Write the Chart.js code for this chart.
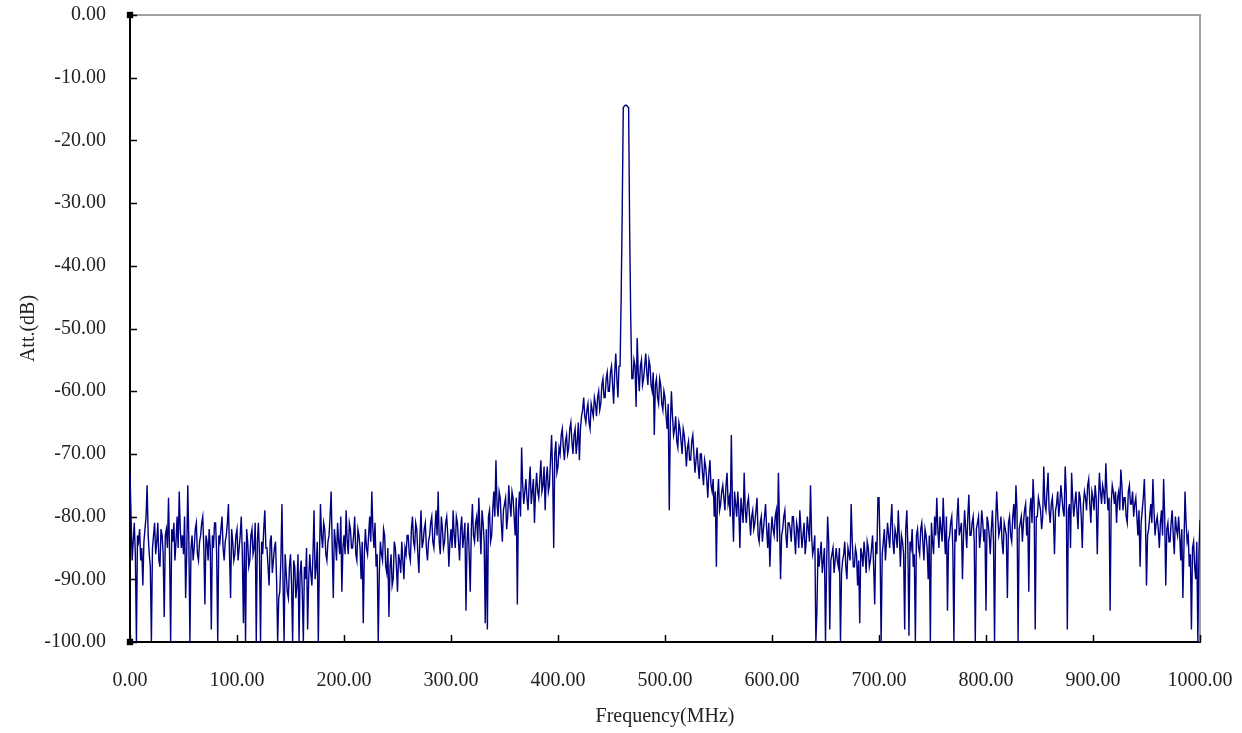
<!DOCTYPE html>
<html>
<head>
<meta charset="utf-8">
<script src="https://cdn.jsdelivr.net/npm/chart.js@4.4.1/dist/chart.umd.min.js"></script>
<style>
  html, body { margin: 0; padding: 0; background: #fff; overflow: hidden; }
  canvas { display: block; }
</style>
</head>
<body>
<canvas id="chart" width="1242" height="733"></canvas>
<script>
// Espectro medido: un punto por MHz, de 0 a 1000 MHz
const freqStep = 1;

// Att.(dB), 20 valores por fila (20 MHz)
const attValues = [
    -73, -80, -87, -84, -81, -86, -100, -83, -84, -82, -87, -85, -91, -84, -82, -80, -75, -83, -86, -88,
    -100, -85, -83, -81, -86, -84, -81, -87, -88, -82, -83, -86, -96, -83, -82, -85, -77, -86, -100, -82,
    -84, -81, -87, -84, -80, -85, -76, -82, -85, -83, -86, -80, -93, -86, -75, -84, -100, -85, -83, -87,
    -85, -82, -81, -86, -87, -84, -83, -81, -80, -85, -94, -83, -84, -87, -82, -85, -98, -83, -85, -81,
    -81, -86, -100, -83, -84, -82, -80, -85, -87, -84, -83, -81, -78, -86, -93, -82, -84, -87, -86, -83,
    -82, -87, -85, -83, -80, -86, -97, -84, -100, -82, -84, -88, -87, -83, -82, -86, -85, -81, -100, -84,
    -81, -86, -100, -84, -86, -82, -79, -85, -85, -88, -91, -84, -83, -89, -87, -85, -84, -90, -100, -93,
    -92, -87, -78, -90, -100, -86, -89, -92, -93, -88, -86, -91, -100, -87, -88, -93, -91, -86, -100, -89,
    -87, -92, -100, -88, -90, -85, -98, -90, -86, -89, -91, -86, -79, -90, -88, -84, -100, -87, -78, -83,
    -85, -81, -82, -86, -87, -84, -83, -80, -76, -85, -93, -82, -84, -87, -81, -84, -86, -80, -92, -85,
    -83, -86, -79, -84, -86, -81, -82, -85, -85, -83, -80, -86, -87, -82, -83, -85, -90, -84, -97, -86,
    -82, -85, -86, -83, -80, -84, -76, -82, -85, -81, -88, -86, -100, -89, -84, -86, -87, -82, -83, -88,
    -89, -85, -96, -88, -86, -91, -90, -84, -85, -88, -92, -86, -87, -89, -84, -87, -90, -85, -86, -83,
    -83, -86, -87, -82, -80, -84, -85, -81, -82, -86, -89, -83, -79, -85, -84, -82, -81, -85, -87, -84,
    -83, -81, -80, -84, -85, -82, -79, -83, -76, -84, -86, -80, -82, -85, -84, -81, -80, -83, -88, -84,
    -82, -85, -79, -83, -85, -80, -81, -84, -87, -82, -80, -85, -83, -81, -95, -84, -81, -86, -92, -82,
    -78, -83, -84, -81, -80, -84, -77, -82, -86, -79, -81, -84, -97, -82, -98, -80, -79, -84, -83, -79,
    -76, -80, -71, -78, -80, -76, -77, -81, -84, -79, -78, -77, -82, -80, -75, -78, -80, -76, -77, -80,
    -83, -77, -94, -79, -76, -80, -69, -75, -78, -76, -74, -77, -79, -75, -72, -78, -76, -74, -81, -76,
    -73, -76, -77, -74, -71, -76, -75, -72, -79, -74, -72, -76, -75, -71, -67, -73, -85, -70, -68, -73,
    -72, -69, -70, -67, -66, -69, -71, -68, -67, -70, -69, -66, -65, -68, -70, -67, -66, -70, -68, -65,
    -71, -66, -64, -63, -61, -64, -65, -63, -62, -65, -66, -62, -63, -64, -61, -62, -64, -61, -60, -63,
    -62, -59, -58, -61, -61, -58, -57, -60, -60, -57, -56, -59, -62, -57, -54, -58, -61, -56, -56, -45.5,
    -31.6, -14.8, -14.5, -14.4, -14.4, -14.6, -14.8, -34.8, -48.6, -58, -58, -55, -56, -62.5, -51.5, -57, -60, -56, -55, -59,
    -58, -56, -54, -57, -59, -55, -56, -59, -60, -57, -67, -59, -58, -61, -62, -58, -59, -62, -63, -60,
    -61, -64, -66, -62, -79, -65, -60, -64, -67, -66, -64, -68, -69, -65, -66, -68, -70, -66, -67, -69,
    -72, -69, -68, -71, -71, -68, -67, -70, -73, -71, -69, -72, -74, -70, -70, -73, -75, -71, -72, -74,
    -77, -73, -71, -75, -76, -74, -80, -76, -88, -77, -74, -79, -78, -76, -75, -77, -79, -75, -73, -78,
    -77, -80, -67, -78, -84, -76, -78, -80, -76, -79, -85, -77, -79, -81, -73, -79, -81, -78, -77, -80,
    -83, -80, -79, -82, -81, -79, -77, -83, -84, -81, -80, -84, -82, -80, -78, -82, -85, -81, -88, -83,
    -80, -82, -83, -80, -79, -84, -73, -81, -90, -83, -82, -80, -79, -83, -85, -81, -81, -82, -84, -80,
    -80, -83, -86, -81, -82, -85, -79, -82, -85, -83, -81, -86, -84, -80, -82, -84, -75, -83, -86, -85,
    -83, -100, -95, -85, -88, -86, -84, -89, -87, -85, -100, -88, -80, -84, -98, -87, -86, -85, -89, -87,
    -85, -87, -88, -85, -100, -89, -87, -86, -84, -88, -90, -85, -86, -87, -78, -84, -88, -88, -85, -86,
    -91, -87, -97, -85, -86, -88, -84, -86, -89, -84, -85, -88, -87, -85, -83, -88, -94, -84, -86, -77,
    -77, -85, -100, -86, -84, -82, -87, -84, -81, -83, -85, -81, -78, -84, -86, -82, -83, -85, -79, -83,
    -88, -83, -84, -86, -98, -82, -79, -85, -99, -84, -85, -82, -88, -86, -100, -83, -82, -85, -86, -82,
    -81, -84, -87, -82, -83, -85, -90, -83, -100, -81, -84, -86, -80, -83, -77, -82, -85, -80, -82, -84,
    -77, -82, -86, -80, -95, -84, -83, -81, -80, -85, -100, -82, -84, -80, -77, -83, -82, -81, -90, -83,
    -79, -82, -85, -80, -76.5, -83, -83, -81, -80, -84, -100, -82, -81, -80, -85, -83, -79, -81, -84, -82,
    -95, -80, -81, -83, -86, -82, -79, -84, -100, -81, -76, -80, -83, -82, -80, -84, -86, -81, -82, -83,
    -93, -81, -80, -83, -84, -80, -78, -82, -75, -79, -100, -82, -81, -80, -84, -81, -79, -78, -83, -80,
    -92, -79, -77, -81, -74, -78, -98, -80, -80, -77, -78, -79, -82, -80, -72, -78, -79, -76, -73, -79,
    -81, -78, -77, -80, -86, -79, -78, -76, -80, -78, -75, -77, -79, -80, -72, -76, -98, -79, -78, -85,
    -73, -77, -80, -78, -76, -79, -82, -76, -77, -80, -85, -78, -76, -77, -79, -75, -74, -78, -81, -76,
    -77, -79, -75, -77, -86, -78, -73, -76, -78, -75, -76, -78, -71.5, -76, -79, -77, -95, -78, -75, -76,
    -78, -76, -81, -77, -76, -79, -72.5, -75, -79, -77, -77, -80, -81, -76, -75, -78, -78, -76, -80, -78,
    -77, -80, -83, -79, -88, -81, -79, -77, -74, -80, -91, -83, -82, -80, -78, -81, -74, -79, -83, -81,
    -80, -82, -85, -81, -79, -83, -74, -80, -91, -82, -81, -84, -84, -81, -79, -83, -86, -80, -82, -83,
    -80, -83, -87, -82, -93, -85, -76, -81, -84, -83, -88, -86, -98, -85, -84, -88, -90, -84, -100, -86,
    -80.5
];

// Marcadores negros en las esquinas del eje
const markerFreq = [0, 0];
const markerAtt = [0, -100];

const freqMHz = attValues.map((_, i) => i * freqStep);

const fontFamily = "'Liberation Serif', 'DejaVu Serif', serif";

// Marco gris arriba/derecha y marcas de escala hacia dentro
const framePlugin = {
    id: 'framePlugin',
    beforeDatasetsDraw(chart) {
        const { ctx, chartArea: a, scales: { x, y } } = chart;
        ctx.save();
        ctx.strokeStyle = '#a0a0a0';
        ctx.lineWidth = 2;
        ctx.beginPath();
        ctx.moveTo(a.left, a.top);
        ctx.lineTo(a.right, a.top);
        ctx.lineTo(a.right, a.bottom);
        ctx.stroke();

        ctx.strokeStyle = '#000';
        ctx.lineWidth = 1.5;
        ctx.beginPath();
        y.ticks.forEach(t => {
            const py = Math.round(y.getPixelForValue(t.value)) + 0.5;
            ctx.moveTo(a.left, py);
            ctx.lineTo(a.left + 7, py);
        });
        x.ticks.forEach(t => {
            const px = Math.round(x.getPixelForValue(t.value)) + 0.5;
            ctx.moveTo(px, a.bottom);
            ctx.lineTo(px, a.bottom - 7);
        });
        ctx.stroke();
        ctx.restore();
    }
};

const ctx = document.getElementById('chart').getContext('2d');

new Chart(ctx, {
    type: 'line',
    data: {
        datasets: [
            {
                label: 'markers',
                data: markerFreq.map((f, i) => ({ x: f, y: markerAtt[i] })),
                showLine: false,
                pointStyle: 'rect',
                pointRadius: 4.5,
                backgroundColor: '#000',
                borderColor: '#000',
                borderWidth: 0,
                clip: false
            },
            {
                label: 'Att.',
                data: freqMHz.map((f, i) => ({ x: f, y: attValues[i] })),
                borderColor: '#000080',
                borderWidth: 1.4,
                pointRadius: 0,
                tension: 0,
                fill: false
            }
        ]
    },
    options: {
        responsive: false,
        animation: false,
        layout: {
            padding: { left: 0, top: 15, right: 42, bottom: 0 }
        },
        plugins: {
            legend: { display: false },
            tooltip: { enabled: false }
        },
        scales: {
            x: {
                type: 'linear',
                min: 0,
                max: 1000,
                afterFit: s => { s.height = 91; s.paddingLeft = 0; s.paddingRight = 0; },
                grid: { display: false, drawTicks: false },
                border: { display: true, color: '#000', width: 2 },
                ticks: {
                    stepSize: 100,
                    padding: 27,
                    color: '#222',
                    font: { family: fontFamily, size: 20 },
                    maxRotation: 0,
                    callback: v => v.toFixed(2)
                },
                title: {
                    display: true,
                    text: 'Frequency(MHz)',
                    color: '#222',
                    font: { family: fontFamily, size: 20 },
                    padding: { top: 0, bottom: 4 }
                }
            },
            y: {
                min: -100,
                max: 0,
                afterFit: s => { s.width = 130; s.paddingTop = 0; s.paddingBottom = 0; },
                grid: { display: false, drawTicks: false },
                border: { display: true, color: '#000', width: 2 },
                ticks: {
                    stepSize: 10,
                    padding: 24,
                    color: '#222',
                    font: { family: fontFamily, size: 20 },
                    callback: v => v.toFixed(2)
                },
                title: {
                    display: true,
                    text: 'Att.(dB)',
                    color: '#222',
                    font: { family: fontFamily, size: 20 },
                    padding: { top: 17, bottom: 0 }
                }
            }
        }
    },
    plugins: [framePlugin]
});
</script>
</body>
</html>
